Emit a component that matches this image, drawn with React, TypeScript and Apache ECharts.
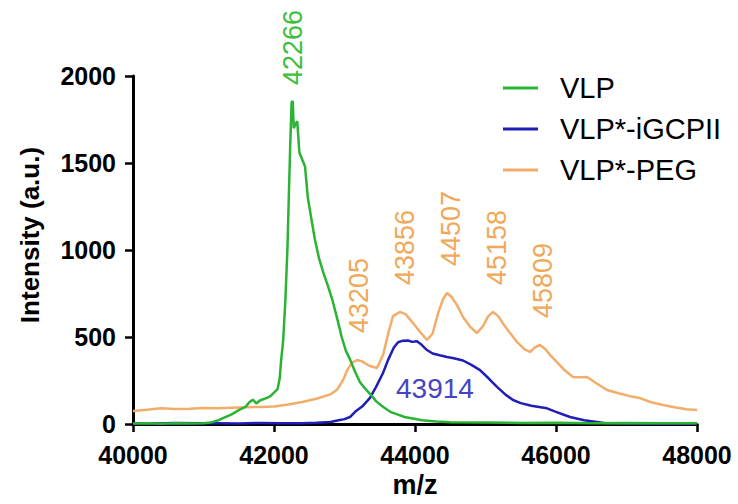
import React, { useEffect, useRef } from "react";
import * as echarts from "echarts";

// m/z, intensity pairs
const vlpData: [number, number][] = [
  [40000, 3], [40200, 5], [40400, 2], [40600, 4], [40800, 3], [41000, 5], [41100, 8],
  [41200, 20], [41300, 38], [41400, 55], [41500, 80], [41600, 100], [41650, 125],
  [41700, 140], [41750, 118], [41800, 135], [41900, 150], [41950, 160], [42000, 180],
  [42050, 200], [42080, 260], [42100, 360], [42130, 480], [42160, 700], [42190, 1000],
  [42210, 1300], [42230, 1600], [42250, 1850], [42266, 1856], [42280, 1700], [42300, 1720],
  [42330, 1740], [42360, 1560], [42400, 1520], [42440, 1480], [42480, 1300], [42530, 1180],
  [42580, 1060], [42640, 950], [42700, 870], [42760, 800], [42830, 710], [42900, 600],
  [42960, 500], [43020, 420], [43080, 370], [43150, 300], [43220, 240], [43300, 200],
  [43380, 165], [43450, 130], [43550, 98], [43650, 70], [43750, 55], [43850, 40],
  [43970, 32], [44100, 22], [44300, 14], [44500, 10], [45000, 8], [45500, 6], [46000, 7],
  [46500, 5], [47000, 6], [47500, 5], [48000, 5],
];

const igcpiiData: [number, number][] = [
  [40000, 5], [40300, 3], [40600, 6], [40900, 4], [41200, 5], [41500, 3], [41800, 6],
  [42100, 4], [42400, 5], [42600, 7], [42800, 12], [42900, 20], [43000, 28], [43078, 40],
  [43150, 70], [43250, 100], [43362, 150], [43450, 215], [43546, 293], [43620, 370],
  [43700, 440], [43760, 470], [43820, 478], [43900, 480], [43960, 472], [44028, 475],
  [44080, 460], [44130, 440], [44170, 425], [44250, 405], [44350, 395], [44454, 385],
  [44550, 378], [44681, 365], [44800, 340], [44922, 310], [45050, 260], [45163, 213],
  [45280, 170], [45390, 138], [45500, 120], [45650, 105], [45872, 90], [46000, 70],
  [46199, 40], [46400, 22], [46582, 12], [46700, 5], [47000, 3], [47500, 2], [48000, 2],
];

const pegData: [number, number][] = [
  [40000, 75], [40200, 82], [40400, 90], [40600, 86], [40800, 88], [41000, 92], [41200, 90],
  [41400, 94], [41600, 96], [41800, 98], [42000, 100], [42200, 112], [42400, 126],
  [42600, 145], [42800, 170], [42900, 200], [42980, 253], [43040, 310], [43100, 350],
  [43177, 368], [43250, 360], [43350, 335], [43460, 322], [43550, 400], [43620, 520],
  [43688, 620], [43787, 644], [43870, 630], [43972, 580], [44070, 530], [44170, 483],
  [44250, 520], [44330, 640], [44400, 720], [44454, 753], [44520, 730], [44600, 680],
  [44681, 615], [44780, 560], [44879, 523], [44960, 560], [45040, 620], [45106, 644],
  [45180, 620], [45260, 570], [45348, 523], [45450, 470], [45550, 430], [45631, 414],
  [45700, 440], [45773, 454], [45850, 430], [45930, 390], [46014, 356], [46120, 310],
  [46241, 270], [46330, 268], [46440, 270], [46550, 240], [46723, 195], [46900, 175],
  [47050, 160], [47191, 149], [47350, 125], [47518, 109], [47700, 95], [47850, 85],
  [48000, 80],
];

const seriesNames = ["VLP", "VLP*-iGCPII", "VLP*-PEG"];

const vlpPeaks = [42266];
const vlpPeakIntensity = [1856];
const igcpiiPeaks = [43914];
const igcpiiPeakIntensity = [480];
const pegPeaks = [43205, 43856, 44507, 45158, 45809];
const pegPeakIntensity = [368, 644, 753, 644, 454];

const xTicks = [40000, 42000, 44000, 46000, 48000];
const yTicks = [0, 500, 1000, 1500, 2000];

const GREEN = "#2bb334";
const BLUE = "#1f1fb5";
const ORANGE = "#f2ad6a";
const FONT = "Liberation Sans, Arial, sans-serif";

function rotatedPeaks(mz: number[], vals: number[], color: string, gap: number) {
  return mz.map((m, i) => ({
    name: String(m),
    coord: [m, vals[i]],
    symbol: "circle",
    symbolSize: 0,
    label: {
      show: true,
      position: "top",
      distance: gap,
      rotate: 90,
      align: "left",
      verticalAlign: "middle",
      formatter: "{b}",
      fontSize: 27,
      fontFamily: FONT,
      color,
    },
  }));
}

export default function App() {
  const ref = useRef<HTMLDivElement>(null);
  useEffect(() => {
    if (!ref.current) return;
    const chart = echarts.init(ref.current, undefined, { renderer: "svg" });
    const axisLine = { show: true, lineStyle: { color: "#000", width: 3 } };
    const axisTick = { show: true, length: 8, lineStyle: { color: "#000", width: 2.5 } };
    const plain = (v: number) => String(v);
    chart.setOption({
      animation: false,
      backgroundColor: "#fff",
      grid: {
        left: 133,
        right: 41,
        top: 76,
        bottom: 80,
        containLabel: false,
        outerBoundsMode: "none",
      },
      legend: {
        orient: "vertical",
        left: 498,
        top: 68,
        icon: "rect",
        itemWidth: 35,
        itemHeight: 3,
        itemGap: 11,
        data: seriesNames,
        textStyle: {
          fontSize: 29,
          fontFamily: FONT,
          color: "#000",
          lineHeight: 30,
          padding: [0, 0, 0, 17],
        },
      },
      xAxis: {
        type: "value",
        min: xTicks[0],
        max: xTicks[xTicks.length - 1],
        interval: 2000,
        name: "m/z",
        nameLocation: "middle",
        nameGap: 47,
        nameTextStyle: { fontSize: 27, fontWeight: "bold", fontFamily: FONT, color: "#000" },
        axisLine,
        axisTick,
        splitLine: { show: false },
        axisLabel: {
          fontSize: 25,
          fontWeight: "bold",
          fontFamily: FONT,
          color: "#000",
          margin: 18,
          formatter: plain,
        },
      },
      yAxis: {
        type: "value",
        min: yTicks[0],
        max: yTicks[yTicks.length - 1],
        interval: 500,
        name: "Intensity (a.u.)",
        nameLocation: "middle",
        nameGap: 90,
        nameTextStyle: {
          fontSize: 26,
          fontWeight: "bold",
          fontFamily: FONT,
          color: "#000",
          padding: [0, 0, 0, 30],
        },
        axisLine,
        axisTick,
        splitLine: { show: false },
        axisLabel: {
          fontSize: 25,
          fontWeight: "bold",
          fontFamily: FONT,
          color: "#000",
          margin: 17,
          formatter: plain,
        },
      },
      series: [
        {
          name: seriesNames[0],
          type: "line",
          data: vlpData,
          showSymbol: false,
          symbol: "none",
          lineStyle: { color: GREEN, width: 2.5 },
          itemStyle: { color: GREEN },
          z: 3,
          markPoint: {
            data: rotatedPeaks(vlpPeaks, vlpPeakIntensity, "#3cc03c", 16),
          },
        },
        {
          name: seriesNames[1],
          type: "line",
          data: igcpiiData,
          showSymbol: false,
          symbol: "none",
          lineStyle: { color: BLUE, width: 2.5 },
          itemStyle: { color: BLUE },
          z: 2,
          markPoint: {
            data: igcpiiPeaks.map((m, i) => ({
              name: String(m),
              coord: [m, igcpiiPeakIntensity[i]],
              symbol: "circle",
              symbolSize: 0,
              label: {
                show: true,
                position: "inside",
                offset: [26, 48],
                formatter: "{b}",
                fontSize: 28,
                fontFamily: FONT,
                color: "#4545c4",
              },
            })),
          },
        },
        {
          name: seriesNames[2],
          type: "line",
          data: pegData,
          showSymbol: false,
          symbol: "none",
          lineStyle: { color: ORANGE, width: 2.5 },
          itemStyle: { color: ORANGE },
          z: 1,
          markPoint: {
            data: rotatedPeaks(pegPeaks, pegPeakIntensity, "#f0a85a", 27),
          },
        },
      ],
    });
    return () => chart.dispose();
  }, []);
  return (
    <div
      ref={ref}
      style={{ position: "fixed", left: 0, top: 0, width: 738, height: 504 }}
    />
  );
}
